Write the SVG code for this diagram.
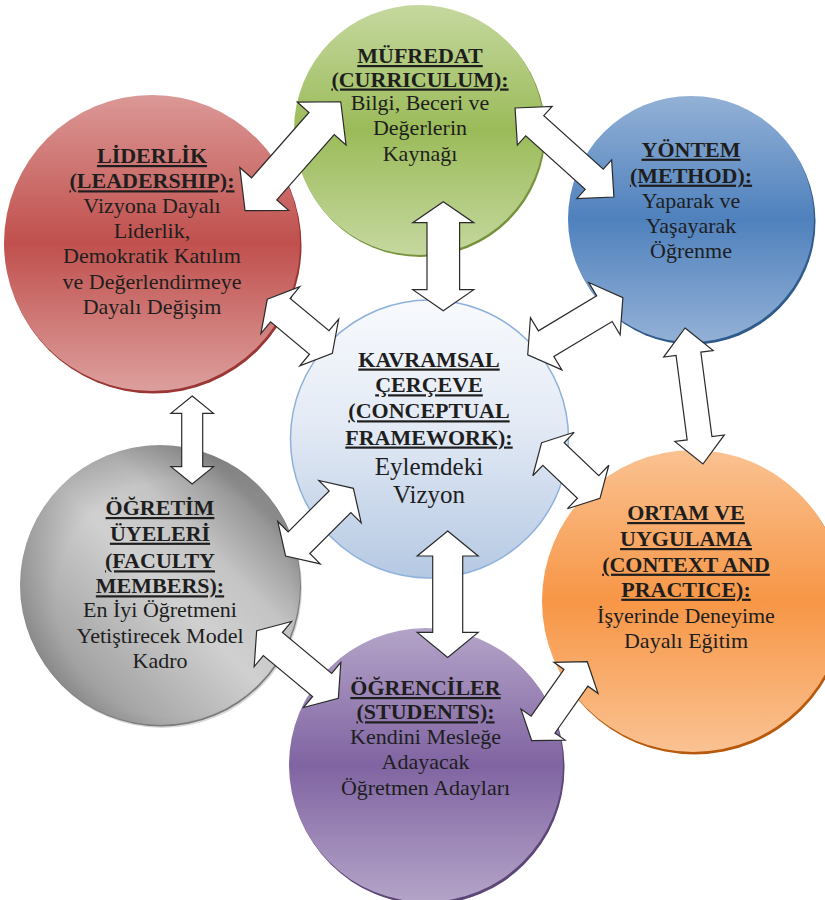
<svg xmlns="http://www.w3.org/2000/svg" width="825" height="900" viewBox="0 0 825 900">
<defs>
<style>
.h{font-family:"Liberation Serif","Times New Roman",serif;font-weight:bold;font-size:22px;text-decoration:underline;text-anchor:middle;fill:#1e1e1e}
.b{font-family:"Liberation Serif","Times New Roman",serif;font-size:22px;text-anchor:middle;fill:#1e1e1e}
.bl{font-family:"Liberation Serif","Times New Roman",serif;font-size:25px;text-anchor:middle;fill:#1e1e1e}
.arrow{fill:#ffffff;stroke:#2a2a2a;stroke-width:1.2;stroke-linejoin:miter}
</style>
<linearGradient id="gRed" x1="0" y1="0" x2="0" y2="1">
<stop offset="0" stop-color="#db9896"/><stop offset="0.5" stop-color="#c0504d"/><stop offset="1" stop-color="#dc9f9d"/>
</linearGradient>
<linearGradient id="gGreen" x1="0" y1="0" x2="0" y2="1">
<stop offset="0" stop-color="#c5d89f"/><stop offset="0.5" stop-color="#9bbb59"/><stop offset="1" stop-color="#c5d89f"/>
</linearGradient>
<linearGradient id="gBlue" x1="0" y1="0" x2="0" y2="1">
<stop offset="0" stop-color="#93b1d6"/><stop offset="0.5" stop-color="#4f81bd"/><stop offset="1" stop-color="#93b1d6"/>
</linearGradient>
<linearGradient id="gOrange" x1="0" y1="0" x2="0" y2="1">
<stop offset="0" stop-color="#fac292"/><stop offset="0.5" stop-color="#f79646"/><stop offset="1" stop-color="#fac292"/>
</linearGradient>
<linearGradient id="gPurple" x1="0" y1="0" x2="0" y2="1">
<stop offset="0" stop-color="#b4a4c8"/><stop offset="0.5" stop-color="#8064a2"/><stop offset="1" stop-color="#b4a4c8"/>
</linearGradient>
<linearGradient id="gCenter" x1="0" y1="0" x2="0" y2="1">
<stop offset="0" stop-color="#f8fafd"/><stop offset="0.45" stop-color="#e3eaf5"/><stop offset="1" stop-color="#b5c9e3"/>
</linearGradient>
<linearGradient id="gGray" x1="0" y1="1" x2="1" y2="0">
<stop offset="0" stop-color="#7d7d7d"/><stop offset="0.25" stop-color="#a9a9a9"/><stop offset="0.5" stop-color="#d0d0d0"/><stop offset="0.65" stop-color="#c4c4c4"/><stop offset="0.82" stop-color="#8f8f8f"/><stop offset="1" stop-color="#a6a6a6"/>
</linearGradient>
<radialGradient id="gGrayShade" cx="0.55" cy="0.55" r="0.6">
<stop offset="0.7" stop-color="#000000" stop-opacity="0"/><stop offset="1" stop-color="#000000" stop-opacity="0.18"/>
</radialGradient>
</defs>
<rect width="825" height="900" fill="#ffffff"/>

<g id="node-mufredat">
<circle cx="420.5" cy="132" r="125" fill="#76923c"/>
<circle cx="419" cy="130" r="125" fill="url(#gGreen)"/>
<text class="h" x="420" y="63">MÜFREDAT</text>
<text class="h" x="420" y="86.5">(CURRICULUM):</text>
<text class="b" x="420" y="109.5">Bilgi, Beceri ve</text>
<text class="b" x="420" y="135">Değerlerin</text>
<text class="b" x="420" y="160.5">Kaynağı</text>
</g>

<g id="node-liderlik">
<circle cx="153.5" cy="245.5" r="148" fill="#9a3633"/>
<circle cx="152" cy="243" r="148" fill="url(#gRed)"/>
<text class="h" x="152" y="163">LİDERLİK</text>
<text class="h" x="152" y="188.3">(LEADERSHIP):</text>
<text class="b" x="152" y="213">Vizyona Dayalı</text>
<text class="b" x="152" y="238">Liderlik,</text>
<text class="b" x="152" y="263.3">Demokratik Katılım</text>
<text class="b" x="152" y="288.5">ve Değerlendirmeye</text>
<text class="b" x="152" y="314">Dayalı Değişim</text>
</g>

<g id="node-yontem">
<circle cx="692.5" cy="221.5" r="123" fill="#2e5a8c"/>
<circle cx="691" cy="219" r="123" fill="url(#gBlue)"/>
<text class="h" x="691" y="156.7">YÖNTEM</text>
<text class="h" x="691" y="182.7">(METHOD):</text>
<text class="b" x="691" y="207.5">Yaparak ve</text>
<text class="b" x="691" y="232.5">Yaşayarak</text>
<text class="b" x="691" y="258.3">Öğrenme</text>
</g>

<g id="node-kavramsal">
<circle cx="429.5" cy="439" r="139" fill="url(#gCenter)" stroke="#8eb1dc" stroke-width="1.5"/>
<text class="h" x="429" y="366.5">KAVRAMSAL</text>
<text class="h" x="429" y="392.3">ÇERÇEVE</text>
<text class="h" x="429" y="418.3">(CONCEPTUAL</text>
<text class="h" x="429" y="444.5">FRAMEWORK):</text>
<text class="bl" x="429" y="475">Eylemdeki</text>
<text class="bl" x="429" y="503.3">Vizyon</text>
</g>

<g id="node-ortam">
<circle cx="694.5" cy="603.5" r="151" fill="#b85a0c"/>
<circle cx="693" cy="601" r="151" fill="url(#gOrange)"/>
<text class="h" x="686" y="520">ORTAM VE</text>
<text class="h" x="686" y="546">UYGULAMA</text>
<text class="h" x="686" y="571.7">(CONTEXT AND</text>
<text class="h" x="686" y="596.7">PRACTICE):</text>
<text class="b" x="686" y="622.7">İşyerinde Deneyime</text>
<text class="b" x="686" y="647.7">Dayalı Eğitim</text>
</g>

<g id="node-ogretim">
<circle cx="162" cy="588" r="140" fill="#d8d8d8"/>
<circle cx="161" cy="586.5" r="140" fill="#7a7a7a"/>
<circle cx="160" cy="585" r="140" fill="url(#gGray)"/>
<circle cx="160" cy="585" r="140" fill="url(#gGrayShade)"/>
<text class="h" x="160" y="515">ÖĞRETİM</text>
<text class="h" x="160" y="540.7">ÜYELERİ</text>
<text class="h" x="160" y="568.3">(FACULTY</text>
<text class="h" x="160" y="593.3">MEMBERS):</text>
<text class="b" x="160" y="616.7">En İyi Öğretmeni</text>
<text class="b" x="160" y="642.7">Yetiştirecek Model</text>
<text class="b" x="160" y="668.3">Kadro</text>
</g>

<g id="node-ogrenciler">
<circle cx="427.5" cy="767.5" r="137" fill="#5c4577"/>
<circle cx="426" cy="765" r="137" fill="url(#gPurple)"/>
<text class="h" x="425.5" y="695">ÖĞRENCİLER</text>
<text class="h" x="425.5" y="719.3">(STUDENTS):</text>
<text class="b" x="425.5" y="744">Kendini Mesleğe</text>
<text class="b" x="425.5" y="769.3">Adayacak</text>
<text class="b" x="425.5" y="795">Öğretmen Adayları</text>
</g>

<g id="connectors">
<polygon class="arrow" transform="translate(292.9,156.2) rotate(-48.7)" points="-72.5,0 -43.5,-32.5 -43.5,-16.8 43.5,-16.8 43.5,-32.5 72.5,0 43.5,32.5 43.5,16.8 -43.5,16.8 -43.5,32.5"/>
<polygon class="arrow" transform="translate(564.5,152.5) rotate(42)" points="-66.5,0 -40,-26 -40,-13.5 40,-13.5 40,-26 66.5,0 40,26 40,13.5 -40,13.5 -40,26"/>
<polygon class="arrow" transform="translate(575.3,326.2) rotate(-31)" points="-55.5,0 -34,-30.5 -34,-15 34,-15 34,-30.5 55.5,0 34,30.5 34,15 -34,15 -34,30.5"/>
<polygon class="arrow" transform="translate(694,396) rotate(82.5)" points="-68.6,0 -42.6,-25 -42.6,-12.5 42.6,-12.5 42.6,-25 68.6,0 42.6,25 42.6,12.5 -42.6,12.5 -42.6,25"/>
<polygon class="arrow" transform="translate(570.8,470.5) rotate(43.6)" points="-40.3,0 -23.9,-30 -23.9,-15.5 23.9,-15.5 23.9,-30 40.3,0 23.9,30 23.9,15.5 -23.9,15.5 -23.9,30"/>
<polygon class="arrow" transform="translate(299.8,326.3) rotate(39.7)" points="-42.3,0 -25.3,-30.4 -25.3,-15.3 25.3,-15.3 25.3,-30.4 42.3,0 25.3,30.4 25.3,15.3 -25.3,15.3 -25.3,30.4"/>
<polygon class="arrow" transform="translate(192.2,440) rotate(90)" points="-44,0 -26.7,-21.3 -26.7,-10.5 26.7,-10.5 26.7,-21.3 44,0 26.7,21.3 26.7,10.5 -26.7,10.5 -26.7,21.3"/>
<polygon class="arrow" transform="translate(319.5,522.2) rotate(-45)" points="-47.9,0 -29,-30 -29,-15.3 29,-15.3 29,-30 47.9,0 29,30 29,15.3 -29,15.3 -29,30"/>
<polygon class="arrow" transform="translate(297.5,664.5) rotate(39.6)" points="-53,0 -32,-29.3 -32,-15 32,-15 32,-29.3 53,0 32,29.3 32,15 -32,15 -32,29.3"/>
<polygon class="arrow" transform="translate(447.7,594.2) rotate(90)" points="-63.2,0 -38.2,-30.5 -38.2,-15 38.2,-15 38.2,-30.5 63.2,0 38.2,30.5 38.2,15 -38.2,15 -38.2,30.5"/>
<polygon class="arrow" transform="translate(559.5,701.2) rotate(-54.9)" points="-48.3,0 -28.6,-27 -28.6,-14.6 28.6,-14.6 28.6,-27 48.3,0 28.6,27 28.6,14.6 -28.6,14.6 -28.6,27"/>
<polygon class="arrow" transform="translate(443.3,256.2) rotate(90)" points="-54.5,0 -33.5,-30.5 -33.5,-16.3 33.5,-16.3 33.5,-30.5 54.5,0 33.5,30.5 33.5,16.3 -33.5,16.3 -33.5,30.5"/>
</g>
</svg>
